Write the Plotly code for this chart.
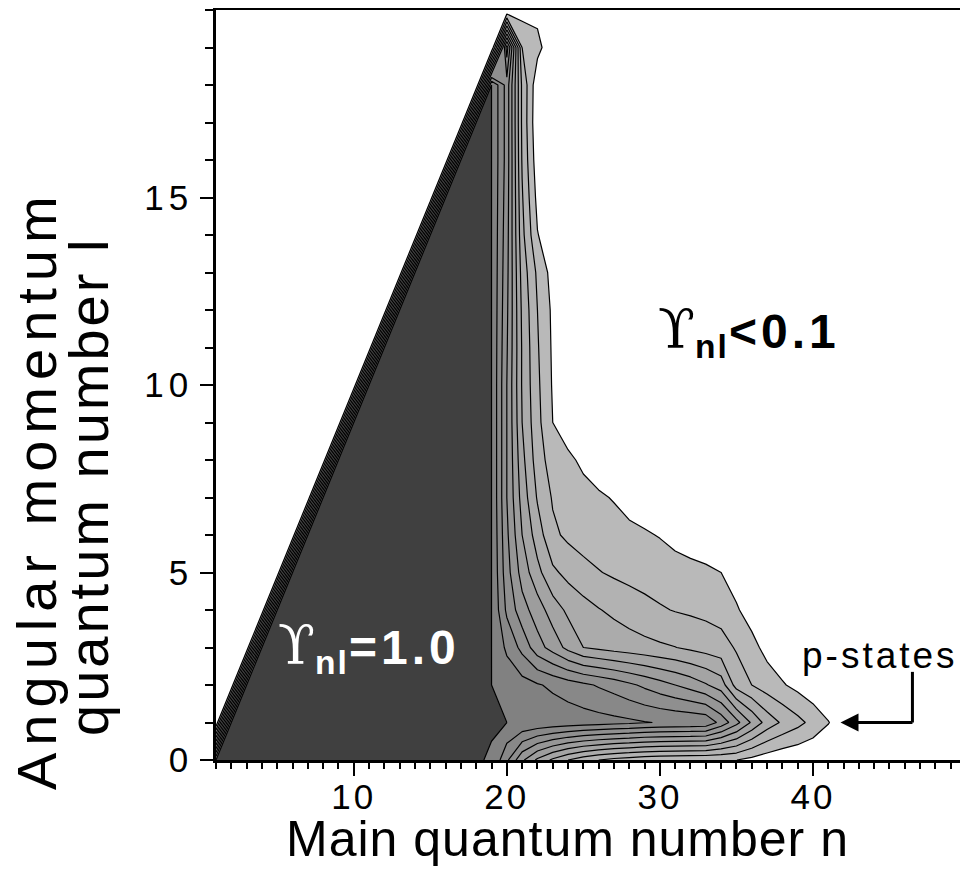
import plotly.graph_objects as go

# Main quantum number n (columns) and angular momentum l (rows)
n_values = list(range(1, 51))
l_values = list(range(0, 21))

# Values of Upsilon_nl for n = 19 .. 43 (one list per l)
n_table_start = 19
ups_l0 = [0.9998, 0.82, 0.62, 0.48, 0.38, 0.30, 0.24, 0.20, 0.17, 0.15, 0.13, 0.12, 0.115, 0.11, 0.107, 0.104, 0.101, 0.07, 0.04, 0.02, 0.01, 0, 0, 0, 0]
ups_l1 = [1.0, 1.0, 0.99, 0.98, 0.97, 0.96, 0.95, 0.94, 0.93, 0.92, 0.905, 0.895, 0.89, 0.885, 0.877, 0.767, 0.633, 0.486, 0.36, 0.285, 0.23, 0.17, 0.105, 0.04, 0]
ups_l2 = [1.0, 0.97, 0.94, 0.91, 0.88, 0.85, 0.82, 0.79, 0.76, 0.72, 0.68, 0.64, 0.60, 0.56, 0.51, 0.45, 0.26, 0.20, 0.15, 0.11, 0.07, 0.03, 0, 0, 0]
ups_l3 = [1.0, 0.88, 0.77, 0.64, 0.56, 0.47, 0.40, 0.38, 0.36, 0.345, 0.33, 0.315, 0.302, 0.28, 0.26, 0.24, 0.19, 0.13, 0.07, 0.03, 0.01, 0, 0, 0, 0]
ups_l4 = [1.0, 0.78, 0.64, 0.55, 0.45, 0.38, 0.34, 0.305, 0.28, 0.255, 0.23, 0.21, 0.195, 0.185, 0.175, 0.16, 0.11, 0.06, 0.03, 0.01, 0, 0, 0, 0, 0]
ups_l5 = [1.0, 0.74, 0.56, 0.43, 0.32, 0.27, 0.23, 0.205, 0.185, 0.17, 0.16, 0.15, 0.14, 0.13, 0.12, 0.10, 0.06, 0.03, 0.01, 0, 0, 0, 0, 0, 0]
ups_l6 = [1.0, 0.72, 0.50, 0.35, 0.22, 0.18, 0.16, 0.145, 0.13, 0.12, 0.11, 0.095, 0.07, 0.05, 0.03, 0.02, 0.01, 0, 0, 0, 0, 0, 0, 0, 0]
ups_l7 = [1.0, 0.70, 0.46, 0.29, 0.19, 0.15, 0.125, 0.11, 0.095, 0.07, 0.05, 0.035, 0.02, 0.01, 0, 0, 0, 0, 0, 0, 0, 0, 0, 0, 0]
ups_l8 = [1.0, 0.70, 0.43, 0.25, 0.15, 0.115, 0.085, 0.06, 0.04, 0.02, 0.01, 0, 0, 0, 0, 0, 0, 0, 0, 0, 0, 0, 0, 0, 0]
ups_l9 = [1.0, 0.70, 0.40, 0.23, 0.10, 0.06, 0.03, 0.01, 0, 0, 0, 0, 0, 0, 0, 0, 0, 0, 0, 0, 0, 0, 0, 0, 0]
ups_l10 = [1.0, 0.70, 0.39, 0.22, 0.09, 0.04, 0.01, 0, 0, 0, 0, 0, 0, 0, 0, 0, 0, 0, 0, 0, 0, 0, 0, 0, 0]
ups_l11 = [1.0, 0.71, 0.39, 0.21, 0.085, 0.03, 0, 0, 0, 0, 0, 0, 0, 0, 0, 0, 0, 0, 0, 0, 0, 0, 0, 0, 0]
ups_l12 = [1.0, 0.72, 0.38, 0.20, 0.08, 0.02, 0, 0, 0, 0, 0, 0, 0, 0, 0, 0, 0, 0, 0, 0, 0, 0, 0, 0, 0]
ups_l13 = [1.0, 0.73, 0.36, 0.18, 0.06, 0.01, 0, 0, 0, 0, 0, 0, 0, 0, 0, 0, 0, 0, 0, 0, 0, 0, 0, 0, 0]
ups_l14 = [1.0, 0.74, 0.33, 0.105, 0.03, 0, 0, 0, 0, 0, 0, 0, 0, 0, 0, 0, 0, 0, 0, 0, 0, 0, 0, 0, 0]
ups_l15 = [1.0, 0.75, 0.31, 0.07, 0.01, 0, 0, 0, 0, 0, 0, 0, 0, 0, 0, 0, 0, 0, 0, 0, 0, 0, 0, 0, 0]
ups_l16 = [1.0, 0.76, 0.29, 0.04, 0, 0, 0, 0, 0, 0, 0, 0, 0, 0, 0, 0, 0, 0, 0, 0, 0, 0, 0, 0, 0]
ups_l17 = [1.0, 0.76, 0.28, 0.02, 0, 0, 0, 0, 0, 0, 0, 0, 0, 0, 0, 0, 0, 0, 0, 0, 0, 0, 0, 0, 0]
ups_l18 = [1.0, 0.76, 0.28, 0.03, 0, 0, 0, 0, 0, 0, 0, 0, 0, 0, 0, 0, 0, 0, 0, 0, 0, 0, 0, 0, 0]
ups_l19 = [0, 0.95, 0.20, 0.13, 0.03, 0, 0, 0, 0, 0, 0, 0, 0, 0, 0, 0, 0, 0, 0, 0, 0, 0, 0, 0, 0]
ups_l20 = [0, 0, 0.057, 0.07, 0, 0, 0, 0, 0, 0, 0, 0, 0, 0, 0, 0, 0, 0, 0, 0, 0, 0, 0, 0, 0]

ups_rows = [ups_l0, ups_l1, ups_l2, ups_l3, ups_l4, ups_l5, ups_l6, ups_l7, ups_l8, ups_l9,
            ups_l10, ups_l11, ups_l12, ups_l13, ups_l14, ups_l15, ups_l16, ups_l17, ups_l18,
            ups_l19, ups_l20]

# Below n = 19 every allowed state (l <= n-1) has Upsilon = 1.0, forbidden ones (l >= n) are 0
z = []
for li, l in enumerate(l_values):
    row = []
    for n in n_values:
        if n < n_table_start:
            row.append(1.0 if l <= n - 1 else 0.0)
        else:
            k = n - n_table_start
            row.append(ups_rows[li][k] if k < len(ups_rows[li]) else 0.0)
    z.append(row)

x_tick_vals = [10, 20, 30, 40]
x_tick_text = ["10", "20", "30", "40"]
y_tick_vals = [0, 5, 10, 15]
y_tick_text = ["0", "5", "10", "15"]

band_colors = ["#ffffff", "#b9b9b9", "#b2b2b2", "#ababab", "#a4a4a4", "#9d9d9d",
               "#969696", "#8f8f8f", "#888888", "#818181", "#404040"]
colorscale = [[i / 10, c] for i, c in enumerate(band_colors)]


def spaced(s, px):
    return "<span style='letter-spacing:%dpx'>%s</span>" % (px, s)


fig = go.Figure()
fig.add_trace(go.Contour(
    x=n_values, y=l_values, z=z,
    autocontour=False,
    contours=dict(start=0.0999, end=1.0, size=0.1, coloring="fill", showlines=True),
    colorscale=colorscale,
    line=dict(color="black", width=1.2, smoothing=0),
    showscale=False,
    hoverinfo="skip",
))

FONT = "Liberation Sans, Arial, sans-serif"

# The page puts the figure 8 px from the top-left corner: the plot area is 750 x 750 px
fig.update_layout(
    width=960, height=865,
    margin=dict(l=208, r=2, t=2, b=113, autoexpand=False),
    paper_bgcolor="white", plot_bgcolor="white",
    showlegend=False,
    font=dict(family=FONT, color="black"),
    xaxis=dict(
        range=[1, 50], tickvals=x_tick_vals, ticktext=[spaced(t, 3) for t in x_tick_text],
        ticks="outside", ticklen=13, tickwidth=2, ticklabelstandoff=-9,
        tickcolor="black", tickfont=dict(size=35, family=FONT),
        showline=True, linecolor="black", linewidth=2.5, mirror=True,
        showgrid=False, zeroline=False, automargin=False,
        minor=dict(dtick=1, tick0=0, ticks="outside", ticklen=6, tickwidth=1.5, tickcolor="black", showgrid=False),
    ),
    yaxis=dict(
        range=[0, 20], tickvals=y_tick_vals, ticktext=[spaced(t, 5) for t in y_tick_text],
        ticks="outside", ticklen=13, tickwidth=2,
        tickcolor="black", tickfont=dict(size=35, family=FONT),
        showline=True, linecolor="black", linewidth=2.5, mirror=True,
        showgrid=False, zeroline=False, automargin=False,
        minor=dict(dtick=1, tick0=0, ticks="outside", ticklen=8, tickwidth=1.5, tickcolor="black", showgrid=False),
    ),
)


def px_x(px):
    return (px - 216) / 750


def px_y(py):
    return (760 - py) / 750


# Axis titles
fig.add_annotation(
    text=spaced("Main quantum number n", 1), xref="paper", yref="paper",
    x=px_x(567), y=px_y(839), xanchor="center", yanchor="middle",
    showarrow=False, font=dict(size=50, family=FONT, color="black"),
)
fig.add_annotation(
    text=spaced("Angular momentum", 7), xref="paper", yref="paper", textangle=-90,
    x=px_x(36), y=px_y(490), xanchor="center", yanchor="middle",
    showarrow=False, font=dict(size=56, family=FONT, color="black"),
)
fig.add_annotation(
    text=spaced("quantum number l", 3), xref="paper", yref="paper", textangle=-90,
    x=px_x(88), y=px_y(487), xanchor="center", yanchor="middle",
    showarrow=False, font=dict(size=56, family=FONT, color="black"),
)

SERIF = "DejaVu Serif, Liberation Serif, serif"
fig.add_annotation(
    x=35.8, y=11.42, xref="x", yref="y", showarrow=False,
    text=("<span style='font-family:" + SERIF + "; font-weight:normal; font-size:54px'>ϒ</span>"
          "<sub><b>" + spaced("nl", 2) + "</b></sub><b>" + spaced("&lt;0.1", 4) + "</b>"),
    font=dict(size=48, family=FONT, color="black"),
)
fig.add_annotation(
    x=11.0, y=2.99, xref="x", yref="y", showarrow=False,
    text=("<span style='font-family:" + SERIF + "; font-weight:normal; font-size:54px'>ϒ</span>"
          "<sub><b>" + spaced("nl", 2) + "</b></sub><b>" + spaced("=1.0", 4) + "</b>"),
    font=dict(size=48, family=FONT, color="white"),
)
fig.add_annotation(
    x=44.4, y=2.78, xref="x", yref="y", showarrow=False,
    text=spaced("p-states", 3), font=dict(size=37, family=FONT, color="black"),
)
fig.add_shape(type="line", x0=46.5, x1=46.5, y0=2.35, y1=1.0, xref="x", yref="y",
              line=dict(color="black", width=3))
fig.add_annotation(
    x=41.8, y=1.0, ax=46.6, ay=1.0, xref="x", yref="y", axref="x", ayref="y",
    showarrow=True, arrowhead=2, arrowsize=1.2, arrowwidth=3, arrowcolor="black", text="",
)

fig.write_html("out.html")
